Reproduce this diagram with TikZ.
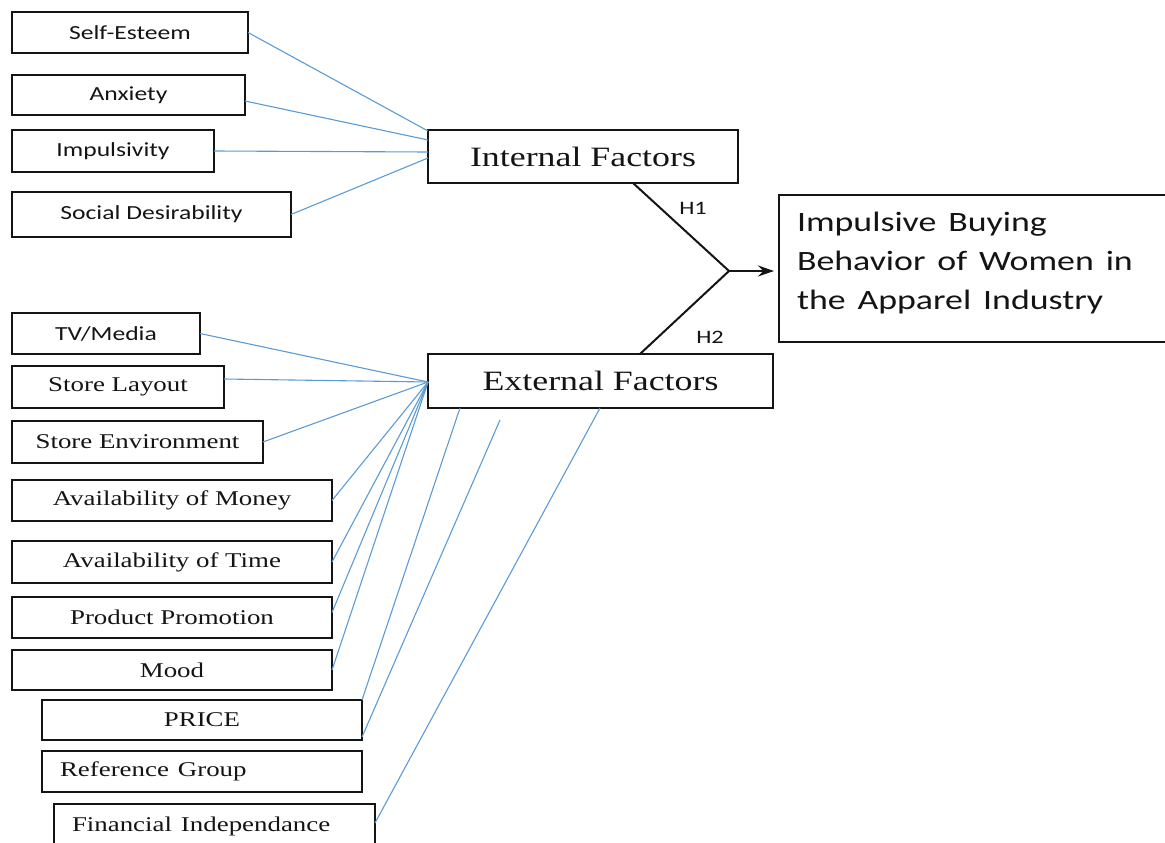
\documentclass[tikz,border=0pt]{standalone}
\usepackage{fontspec}
\setmainfont{Liberation Serif}
\newfontfamily\carl{Carlito}
\usetikzlibrary{calc,arrows.meta}
\definecolor{connc}{RGB}{91,155,213}
\definecolor{ink}{RGB}{20,20,20}
\newcommand\sx[1]{\scalebox{1.28}[1]{#1}}
\begin{document}
\begin{tikzpicture}[x=1pt,y=-1pt,
  box/.style={draw=ink, line width=1.9pt, anchor=north west, inner sep=0pt, outer sep=0pt, text=ink},
  sfsmall/.style={box, font=\carl\fontsize{20}{24}\selectfont},
  rmsmall/.style={box, font=\fontsize{21}{25}\selectfont},
  rmbig/.style={box, font=\fontsize{28}{32}\selectfont},
  conn/.style={draw=connc, line width=1.1pt},
  hyp/.style={draw=ink, line width=2pt, line join=miter},
  hlab/.style={font=\carl\fontsize{19}{22}\selectfont, text=ink, inner sep=0pt}
]
\useasboundingbox (0,0) rectangle (1165,843);
\clip (0,0) rectangle (1165,843);

% internal factor boxes
\node[sfsmall, minimum width=236pt, minimum height=41pt] (se) at (12,12) {\sx{Self-Esteem}};
\node[sfsmall, minimum width=233pt, minimum height=40pt] (ax) at (12,75) {\sx{Anxiety}};
\node[sfsmall, minimum width=202pt, minimum height=42pt] (im) at (12,130) {\sx{Impulsivity}};
\node[sfsmall, minimum width=279pt, minimum height=45pt] (sd) at (12,192) {\sx{Social Desirability}};

% central boxes
\node[rmbig, minimum width=310pt, minimum height=53pt] (if) at (428,130) {\sx{Internal Factors}};
\node[rmbig, minimum width=345pt, minimum height=54pt] (ef) at (428,354) {\sx{External Factors}};
\node[box, font=\carl\fontsize{28}{39}\selectfont, text width=360pt, align=left, inner xsep=18pt, minimum height=147pt] (ib) at (779,195)
  {\sx{Impulsive Buying}\\\sx{Behavior of Women in}\\\sx{the Apparel Industry}\par\vspace*{10pt}};

% external factor boxes
\node[sfsmall, minimum width=188pt, minimum height=41pt] (tv) at (12,313) {\sx{TV/Media}};
\node[rmsmall, minimum width=212pt, minimum height=42pt] (sl) at (12,366) {\sx{Store Layout}};
\node[rmsmall, minimum width=251pt, minimum height=42pt] (sen) at (12,421) {\sx{Store Environment}};
\node[rmsmall, minimum width=320pt, minimum height=41pt] (am) at (12,480) {\sx{Availability of Money}};
\node[rmsmall, minimum width=320pt, minimum height=42pt] (at) at (12,541) {\sx{Availability of Time}};
\node[rmsmall, minimum width=320pt, minimum height=41pt] (pp) at (12,597) {\sx{Product Promotion}};
\node[rmsmall, minimum width=320pt, minimum height=40pt] (mo) at (12,650) {\sx{Mood}};
\node[rmsmall, minimum width=320pt, minimum height=40pt] (pr) at (42,700) {\sx{PRICE}};
\node[rmsmall, text width=284pt, align=left, inner xsep=18pt, minimum height=41pt] (rg) at (42,751) {\sx{Reference Group}};
\node[rmsmall, text width=285pt, align=left, inner xsep=18pt, minimum height=44pt] (fi) at (54,804) {\sx{Financial Independance}};

% internal connectors
\draw[conn] (se.east) -- ($(if.north west)+(0,1)$);
\draw[conn] ($(ax.east)+(0,6)$) -- ($(if.north west)+(0,10)$);
\draw[conn] (im.east) -- ($(if.north west)+(0,22)$);
\draw[conn] (sd.east) -- ($(if.north west)+(0,28)$);

% external connectors
\coordinate (hub) at ($(ef.north west)+(0,28)$);
\draw[conn] (tv.east) -- (hub);
\draw[conn] ($(sl.east)+(0,-8)$) -- (hub);
\draw[conn] (sen.east) -- (hub);
\draw[conn] (am.east) -- (hub);
\draw[conn] (at.east) -- (hub);
\draw[conn] ($(pp.east)+(0,-5)$) -- (hub);
\draw[conn] (mo.east) -- (hub);
\draw[conn] (pr.north east) -- ($(ef.south west)+(32,0)$);
\coordinate (pfree) at (500,420);
\draw[conn] ($(pr.south east)+(0,-3)$) -- (pfree);
\draw[conn] ($(fi.east)+(0,-3)$) -- ($(ef.south west)+(172,0)$);

% hypotheses
\coordinate (v) at (729,271);
\draw[hyp] ($(if.south west)+(205,0)$) -- (v) -- ($(ef.north west)+(212,0)$);
\draw[hyp, -{Stealth[length=16pt,width=11pt]}, shorten >=5pt] (v) -- (v -| ib.west);
\node[hlab] (h1) at (693,208) {\sx{H1}};
\node[hlab] (h2) at (710,337) {\sx{H2}};
\end{tikzpicture}
\end{document}
